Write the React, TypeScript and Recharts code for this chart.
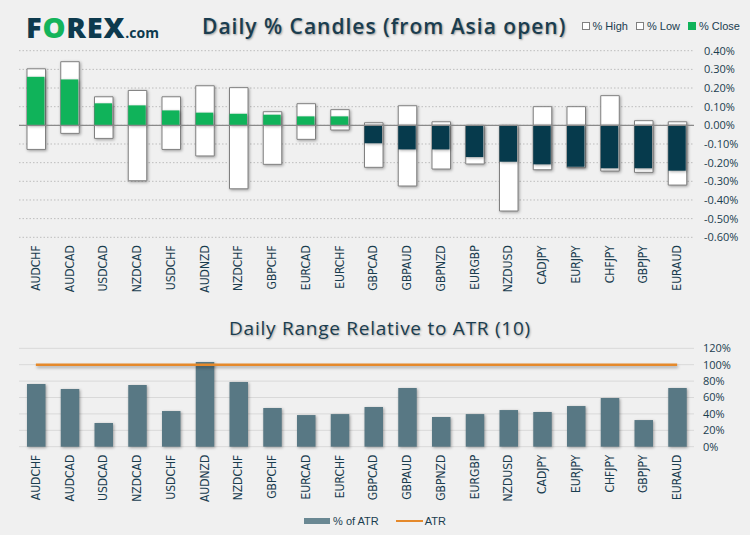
import React from 'react';
import {
  ComposedChart, Bar, Line, XAxis, YAxis, CartesianGrid, ReferenceLine, Legend, Cell,
} from 'recharts';

const pairs = ['AUDCHF','AUDCAD','USDCAD','NZDCAD','USDCHF','AUDNZD','NZDCHF','GBPCHF','EURCAD','EURCHF','GBPCAD','GBPAUD','GBPNZD','EURGBP','NZDUSD','CADJPY','EURJPY','CHFJPY','GBPJPY','EURAUD'];
const highPct = [0.303,0.341,0.153,0.187,0.153,0.212,0.202,0.073,0.116,0.084,0.014,0.105,0.019,0.0,0.0,0.100,0.100,0.159,0.025,0.019];
const lowPct = [-0.129,-0.043,-0.070,-0.297,-0.129,-0.164,-0.340,-0.209,-0.075,-0.025,-0.225,-0.325,-0.234,-0.207,-0.459,-0.238,-0.227,-0.245,-0.252,-0.320];
const closePct = [0.260,0.246,0.118,0.107,0.080,0.068,0.062,0.057,0.048,0.048,-0.096,-0.129,-0.129,-0.170,-0.195,-0.209,-0.222,-0.230,-0.230,-0.243];
const atrPct = [76.5,70.4,28.9,75.2,43.5,103.3,78.9,47.2,38.6,39.8,48.4,71.6,36.2,39.8,44.7,42.3,49.6,59.4,32.5,71.6];
const atrLevel = 100;
const candleTicks = [-0.6,-0.5,-0.4,-0.3,-0.2,-0.1,0,0.1,0.2,0.3,0.4];
const atrTicks = [0,20,40,60,80,100,120];
const candleLegendOrder = ['% High', '% Low', '% Close'];
const atrLegendOrder = ['% of ATR', 'ATR'];

const candleData = pairs.map((p, i) => ({ pair: p, high: highPct[i], low: lowPct[i], close: closePct[i] }));
const atrData = pairs.map((p, i) => ({ pair: p, pct: atrPct[i], atr: atrLevel }));

const TEXT = '#1a3d4f';
const GREEN = '#10b35a';
const NAVY = '#063a4c';
const SLATE = '#587884';
const ORANGE = '#e5892b';

const RotTick = (props: any) => {
  const { x, y, payload } = props;
  return (
    <text x={x} y={y} transform={`rotate(-90 ${x} ${y})`} textAnchor="end" dominantBaseline="central"
      fill={TEXT} fontSize={12} fontFamily="'Liberation Sans Narrow', 'DejaVu Sans Condensed', 'Liberation Sans', sans-serif">
      {payload.value}
    </text>
  );
};

const sortBy = (items: any[], order: string[]) =>
  [...items].sort((a, b) => order.indexOf(a.value) - order.indexOf(b.value));

const TopLegend = (props: any) => {
  const items = sortBy(props.payload || [], candleLegendOrder);
  return (
    <div style={{ height: 20, display: 'flex', justifyContent: 'flex-end', alignItems: 'center', fontFamily: "'Liberation Sans', Arial, sans-serif", fontSize: 11, color: TEXT }}>
      {items.map((e: any, i: number) => {
        const isClose = e.value === '% Close';
        return (
          <div key={i} style={{ display: 'flex', alignItems: 'center', marginLeft: i === 0 ? 0 : 8 }}>
            <span style={{ display: 'inline-block', width: 6, height: 6, background: isClose ? GREEN : '#fff', border: isClose ? '1px solid ' + GREEN : '1px solid #808080', marginRight: 3 }} />
            <span>{e.value}</span>
          </div>
        );
      })}
    </div>
  );
};

const BottomLegend = (props: any) => {
  const items = sortBy(props.payload || [], atrLegendOrder);
  return (
    <div style={{ height: 20, display: 'flex', justifyContent: 'center', alignItems: 'center', fontFamily: "'Liberation Sans', Arial, sans-serif", fontSize: 11, color: TEXT }}>
      {items.map((e: any, i: number) => (
        <div key={i} style={{ display: 'flex', alignItems: 'center', marginLeft: i === 0 ? 0 : 17 }}>
          {e.type === 'line' ? (
            <span style={{ display: 'inline-block', width: 27, height: 2.5, background: ORANGE, marginRight: 2 }} />
          ) : (
            <span style={{ display: 'inline-block', width: 26, height: 6, background: '#6a8893', marginRight: 3 }} />
          )}
          <span>{e.value}</span>
        </div>
      ))}
    </div>
  );
};

const tickStyle = { fill: TEXT, fontSize: 11, fontFamily: "'Open Sans', sans-serif" };

export default function App() {
  return (
    <div style={{ position: 'absolute', left: 0, top: 0, width: 750, height: 535, background: '#f0f0f0', overflow: 'hidden' }}>
      <style>{`
        .shadowed .recharts-bar-rectangle { filter: drop-shadow(1.5px 1.5px 1.5px rgba(0,0,0,0.35)); }
        .shadowed .recharts-line-curve { filter: drop-shadow(1px 2px 1.5px rgba(0,0,0,0.3)); }
      `}</style>
      <div style={{ position: 'absolute', left: 26, top: 9, fontFamily: "'Open Sans', sans-serif", fontWeight: 800, fontSize: 29, color: '#0d3a4e', letterSpacing: 0.8, zIndex: 2, lineHeight: '36px', whiteSpace: 'nowrap' }}>
        F<span style={{ color: '#13b45a' }}>O</span>REX<span style={{ fontSize: 14, fontWeight: 700, letterSpacing: 0 }}>.com</span>
      </div>
      <div style={{ position: 'absolute', left: 202, top: 11, fontFamily: "'Open Sans', sans-serif", fontWeight: 600, fontSize: 21, color: TEXT, letterSpacing: 1, zIndex: 2, lineHeight: '30px', textShadow: '1px 1px 2px rgba(0,0,0,0.35)', whiteSpace: 'nowrap' }}>
        Daily % Candles (from Asia open)
      </div>
      <div style={{ position: 'absolute', left: 0, width: 760, top: 314, textAlign: 'center', fontFamily: "'Open Sans', sans-serif", fontWeight: 500, fontSize: 19, color: TEXT, letterSpacing: 0.75, zIndex: 2, lineHeight: '28px', textShadow: '1px 1px 2px rgba(0,0,0,0.3)', whiteSpace: 'nowrap' }}>
        Daily Range Relative to ATR (10)
      </div>

      <div className="shadowed" style={{ position: 'absolute', left: 0, top: 0 }}>
        <ComposedChart width={750} height={300} data={candleData} margin={{ top: 30.7, right: 10, bottom: 2.7, left: 19 }}>
          <CartesianGrid vertical={false} stroke="#bdbdbd" strokeDasharray="1.5 2" />
          <XAxis xAxisId="main" dataKey="pair" interval={0} height={60} tickLine={false} axisLine={false} tick={<RotTick />} />
          <XAxis xAxisId="low" dataKey="pair" hide height={0} />
          <XAxis xAxisId="close" dataKey="pair" hide height={0} />
          <YAxis orientation="right" width={46} domain={[-0.6, 0.4]} ticks={candleTicks} interval={0} tickLine={false} axisLine={false} tickMargin={4}
            tick={tickStyle} tickFormatter={(v: number) => `${v.toFixed(2)}%`} />
          <Bar xAxisId="main" dataKey="high" name="% High" fill="#ffffff" stroke="#808080" strokeWidth={1} barSize={18.5} isAnimationActive={false} />
          <Bar xAxisId="low" dataKey="low" name="% Low" fill="#ffffff" stroke="#808080" strokeWidth={1} barSize={18.5} isAnimationActive={false} />
          <Bar xAxisId="close" dataKey="close" name="% Close" fill={GREEN} barSize={17.5} isAnimationActive={false}>
            {candleData.map((d, i) => (
              <Cell key={i} fill={d.close >= 0 ? GREEN : NAVY} />
            ))}
          </Bar>
          <ReferenceLine xAxisId="main" y={0} stroke="#8a8a8a" strokeWidth={1.2} />
          <Legend verticalAlign="top" align="right" content={<TopLegend />} wrapperStyle={{ top: 16, left: 19, width: 721 }} />
        </ComposedChart>
      </div>

      <div className="shadowed" style={{ position: 'absolute', left: 0, top: 300 }}>
        <ComposedChart width={750} height={235} data={atrData} margin={{ top: 48.3, right: 10, bottom: 4, left: 19 }}>
          <CartesianGrid vertical={false} stroke="#d9d9d9" />
          <XAxis dataKey="pair" interval={0} height={64.3} tickLine={false} axisLine={false} tick={<RotTick />} />
          <YAxis orientation="right" width={46} domain={[0, 120]} ticks={atrTicks} interval={0} tickLine={false} axisLine={false} tickMargin={3}
            tick={tickStyle} tickFormatter={(v: number) => `${v}%`} />
          <Bar dataKey="pct" name="% of ATR" fill={SLATE} barSize={18.5} isAnimationActive={false} />
          <Line dataKey="atr" name="ATR" type="linear" stroke={ORANGE} strokeWidth={2.5} dot={false} activeDot={false} isAnimationActive={false} />
          <Legend verticalAlign="bottom" align="center" content={<BottomLegend />} wrapperStyle={{ top: 211, left: 0, width: 750 }} />
        </ComposedChart>
      </div>
    </div>
  );
}
